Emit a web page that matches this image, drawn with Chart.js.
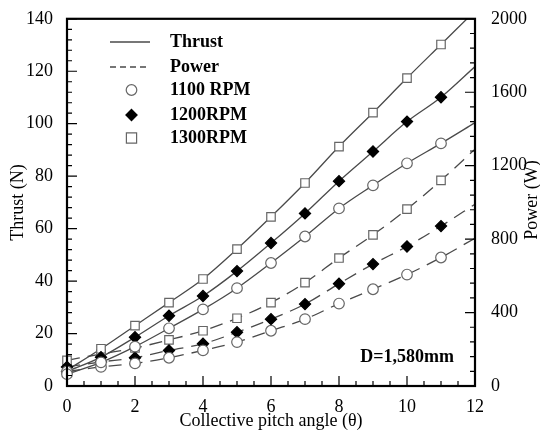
<!DOCTYPE html>
<html>
<head>
<meta charset="UTF-8">
<title>Thrust and power vs collective pitch</title>
<script src="https://cdn.jsdelivr.net/npm/chart.js"></script>
<style>
  html, body { margin: 0; padding: 0; background: #fff; }
  #wrap { width: 540px; height: 432px; }
</style>
</head>
<body>
<div id="wrap"><canvas id="chartCanvas" width="540" height="432"></canvas></div>
<script>
// collective pitch angle (deg)
const pitch = [0, 1, 2, 3, 4, 5, 6, 7, 8, 9, 10, 11];

// thrust (N)
const thrust1100 = [4.5, 9, 15, 22, 29.2, 37.3, 46.9, 57, 67.7, 76.5, 84.9, 92.5];
const thrust1200 = [5.5, 11, 18.6, 26.8, 34.3, 43.8, 54.5, 65.8, 78.1, 89.4, 100.8, 110.1];
const thrust1300 = [6, 14.2, 23, 31.8, 40.8, 52.2, 64.5, 77.4, 91.3, 104.2, 117.4, 130.2];

// power (W)
const power1100 = [79, 104, 123, 154, 194, 239, 301, 364, 449, 527, 607, 700];
const power1200 = [104, 131, 154, 194, 230, 293, 364, 446, 557, 664, 760, 871];
const power1300 = [140, 174, 207, 251, 301, 369, 454, 563, 697, 823, 963, 1120];

// the fitted curves run on to the right edge of the plot
const fitEndPitch = 12;
const thrustFitEnd = [100.4, 121.8, 143];
const powerFitEnd = [805, 990, 1290];

const rpmLabels = ["1100 RPM", "1200RPM", "1300RPM"];

const lineColor = "#4a4a4a";
const markColor = "#666";
const serif = "'Liberation Serif', 'DejaVu Serif', serif";

function pts(ys, endY) {
    const out = pitch.map((x, i) => ({ x: x, y: ys[i] }));
    if (endY !== undefined) out.push({ x: fitEndPitch, y: endY });
    return out;
}

const markerStyles = [
    { pointStyle: "circle", bg: "#fff", r: 5.3 },
    { pointStyle: "rectRot", bg: "#000", r: 5.6 },
    { pointStyle: "rect", bg: "#fff", r: 6 }
];

const thrustSeries = [thrust1100, thrust1200, thrust1300];
const powerSeries = [power1100, power1200, power1300];

const datasets = [];
// markers on top (order 0)
[0, 1, 2].forEach(k => {
    const m = markerStyles[k];
    [["y", thrustSeries[k]], ["y2", powerSeries[k]]].forEach(([axis, ys]) => {
        datasets.push({
            label: rpmLabels[k],
            data: pts(ys),
            yAxisID: axis,
            showLine: false,
            pointStyle: m.pointStyle,
            pointRadius: m.r,
            pointBackgroundColor: m.bg,
            pointBorderColor: k === 1 ? "#000" : markColor,
            pointBorderWidth: 1.2,
            clip: false,
            order: 0
        });
    });
});
// fitted curves underneath (order 1)
[0, 1, 2].forEach(k => {
    datasets.push({
        label: "Thrust " + rpmLabels[k],
        data: pts(thrustSeries[k], thrustFitEnd[k]),
        yAxisID: "y",
        showLine: true,
        pointRadius: 0,
        borderColor: lineColor,
        borderWidth: 1.3,
        cubicInterpolationMode: "monotone",
        order: 1
    });
    datasets.push({
        label: "Power " + rpmLabels[k],
        data: pts(powerSeries[k], powerFitEnd[k]),
        yAxisID: "y2",
        showLine: true,
        pointRadius: 0,
        borderColor: lineColor,
        borderWidth: 1.3,
        borderDash: [13, 8],
        cubicInterpolationMode: "monotone",
        order: 1
    });
});

function marker(ctx, style, x, y) {
    ctx.save();
    ctx.lineWidth = 1.2;
    ctx.strokeStyle = style.bg === "#000" ? "#000" : markColor;
    ctx.fillStyle = style.bg;
    ctx.beginPath();
    if (style.pointStyle === "circle") {
        ctx.arc(x, y, style.r, 0, Math.PI * 2);
    } else if (style.pointStyle === "rectRot") {
        ctx.moveTo(x, y - style.r); ctx.lineTo(x + style.r, y);
        ctx.lineTo(x, y + style.r); ctx.lineTo(x - style.r, y);
        ctx.closePath();
    } else {
        const h = style.r * 0.85;
        ctx.rect(x - h, y - h, 2 * h, 2 * h);
    }
    ctx.fill();
    ctx.stroke();
    ctx.restore();
}

// frame, inward ticks, legend and labels
const decorations = {
    id: "decorations",
    afterDatasetsDraw(chart) {
        const ctx = chart.ctx;
        const a = chart.chartArea;
        const sx = chart.scales.x, sy = chart.scales.y, sy2 = chart.scales.y2;
        ctx.save();
        ctx.strokeStyle = "#000";
        ctx.lineWidth = 1.2;
        ctx.beginPath();
        // x ticks every 0.5, major every 2
        for (let i = 0; i <= 24; i++) {
            const px = sx.getPixelForValue(i * 0.5);
            const len = i % 4 === 0 ? 10 : 5;
            ctx.moveTo(px, a.bottom); ctx.lineTo(px, a.bottom - len);
        }
        // left ticks every 4, major every 20
        for (let i = 0; i <= 35; i++) {
            const py = sy.getPixelForValue(i * 4);
            const len = i % 5 === 0 ? 10 : 5;
            ctx.moveTo(a.left, py); ctx.lineTo(a.left + len, py);
        }
        // right ticks every 80, major every 400
        for (let i = 0; i <= 25; i++) {
            const py = sy2.getPixelForValue(i * 80);
            const len = i % 5 === 0 ? 10 : 5;
            ctx.moveTo(a.right, py); ctx.lineTo(a.right - len, py);
        }
        ctx.stroke();
        ctx.lineWidth = 2.2;
        ctx.strokeRect(a.left, a.top, a.right - a.left, a.bottom - a.top);

        // legend
        ctx.fillStyle = "#000";
        ctx.font = "bold 18px " + serif;
        ctx.textBaseline = "middle";
        ctx.textAlign = "left";
        ctx.lineWidth = 1.3;
        ctx.strokeStyle = lineColor;
        ctx.beginPath(); ctx.moveTo(110, 42); ctx.lineTo(150, 42); ctx.stroke();
        ctx.setLineDash([6, 4]);
        ctx.beginPath(); ctx.moveTo(110, 67); ctx.lineTo(150, 67); ctx.stroke();
        ctx.setLineDash([]);
        ctx.fillText("Thrust", 170, 42);
        ctx.fillText("Power", 170, 67);
        const rows = [90, 115, 138];
        rows.forEach((y, k) => {
            marker(ctx, markerStyles[k], 131.5, y);
            ctx.fillStyle = "#000";
            ctx.fillText(rpmLabels[k], 170, y);
        });

        ctx.textAlign = "right";
        ctx.fillText("D=1,580mm", 454, 357);

        // right axis title reads bottom to top
        ctx.font = "18px " + serif;
        ctx.textAlign = "center";
        ctx.translate(532, 200);
        ctx.rotate(-Math.PI / 2);
        ctx.fillText("Power (W)", 0, 0);
        ctx.restore();
    }
};

const tickFont = { family: serif, size: 18 };
const plain = v => String(v);

new Chart(document.getElementById("chartCanvas"), {
    type: "scatter",
    data: { datasets: datasets },
    options: {
        responsive: false,
        animation: false,
        layout: { padding: { top: 15, left: 0, right: 0, bottom: 0 } },
        plugins: { legend: { display: false }, tooltip: { enabled: false } },
        scales: {
            x: {
                type: "linear", min: 0, max: 12,
                ticks: { stepSize: 2, font: tickFont, color: "#000", padding: 2, callback: plain },
                grid: { display: false }, border: { display: false },
                title: { display: true, text: "Collective pitch angle (θ)", font: tickFont, color: "#000", padding: { top: 1, bottom: 0 } },
                afterFit(s) { s.height = 46; }
            },
            y: {
                position: "left", min: 0, max: 140,
                ticks: { stepSize: 20, font: tickFont, color: "#000", padding: 6, callback: plain },
                grid: { display: false }, border: { display: false },
                title: { display: true, text: "Thrust (N)", font: tickFont, color: "#000", padding: { top: 7, bottom: 0 } },
                afterFit(s) { s.width = 67; }
            },
            y2: {
                position: "right", min: 0, max: 2000,
                ticks: { stepSize: 400, font: tickFont, color: "#000", padding: 8, callback: plain },
                grid: { display: false }, border: { display: false },
                afterFit(s) { s.width = 65; }
            }
        }
    },
    plugins: [decorations]
});
</script>
</body>
</html>
